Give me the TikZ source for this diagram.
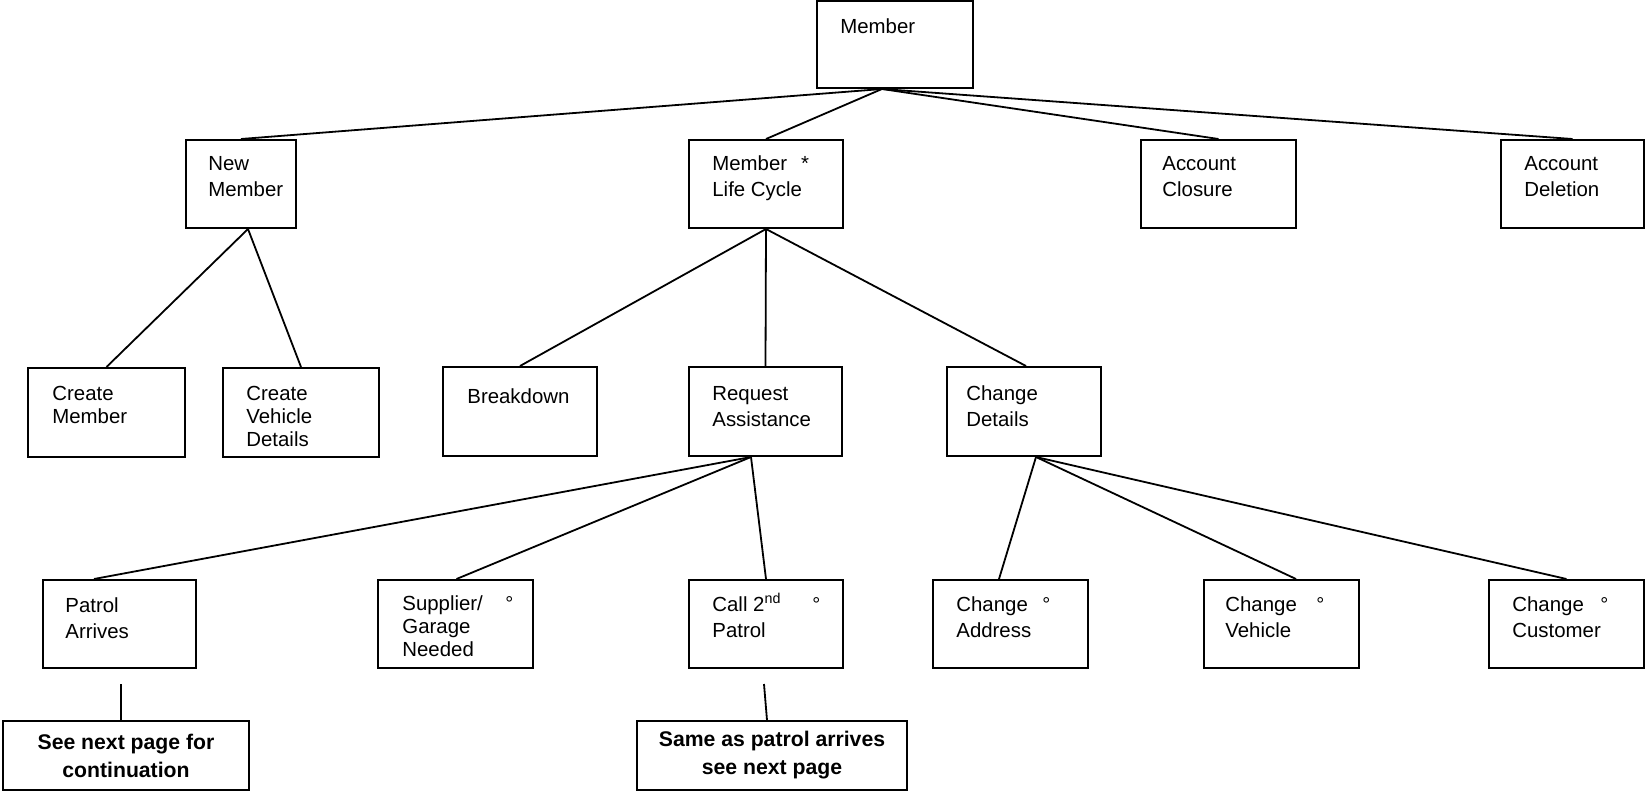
\documentclass[tikz,border=0pt]{standalone}
\usepackage{fontspec}
\setmainfont{Liberation Sans}
\usetikzlibrary{fit,calc}
% top-aligned multi-line label: baseline of the first line is the node base
\newcommand\txt[1]{\parbox[t]{100pt}{\raggedright #1}}
\begin{document}
\begin{tikzpicture}[x=0.5pt,y=-0.5pt,
  box/.style={draw, line width=1pt, inner sep=0pt, rectangle},
  wire/.style={line width=0.9pt},
  lbl/.style={anchor=base west, inner sep=0pt, font=\fontsize{10.2pt}{13pt}\selectfont},
  lblthree/.style={lbl, font=\fontsize{10.2pt}{11.5pt}\selectfont},
  degmark/.style={anchor=base west, inner sep=0pt, font=\fontsize{10pt}{13pt}\selectfont},
  notetxt/.style={inner sep=0pt, align=center, font=\bfseries\fontsize{10.6pt}{14pt}\selectfont}]
\useasboundingbox (0,0) rectangle (1645,793);

% ---- boxes ----
\node[box, fit={(817,1)(973,88)}] (mem) {};
\node[box, fit={(186,140)(296,228)}] (nm) {};
\node[box, fit={(689,140)(843,228)}] (mlc) {};
\node[box, fit={(1141,140)(1296,228)}] (ac) {};
\node[box, fit={(1501,140)(1644,228)}] (ad) {};
\node[box, fit={(28,368)(185,457)}] (cm) {};
\node[box, fit={(223,368)(379,457)}] (cv) {};
\node[box, fit={(443,367)(597,456)}] (bd) {};
\node[box, fit={(689,367)(842,456)}] (ra) {};
\node[box, fit={(947,367)(1101,456)}] (cd) {};
\node[box, fit={(43,580)(196,668)}] (pa) {};
\node[box, fit={(378,580)(533,668)}] (sg) {};
\node[box, fit={(689,580)(843,668)}] (c2) {};
\node[box, fit={(933,580)(1088,668)}] (ca) {};
\node[box, fit={(1204,580)(1359,668)}] (cvh) {};
\node[box, fit={(1489,580)(1644,668)}] (cc) {};
\node[box, fit={(3,721)(249,790)}] (snp) {};
\node[box, fit={(637,721)(907,790)}] (sap) {};

% ---- box texts ----
\node[lbl] (mem-t) at (840,33) {\txt{Member}};
\node[lbl] (nm-t) at (208,170) {\txt{New\\Member}};
\node[lbl] (mlc-t) at (712,170) {\txt{Member\hspace{7pt}*\\Life Cycle}};
\node[lbl] (ac-t) at (1162,170) {\txt{Account\\Closure}};
\node[lbl] (ad-t) at (1524,170) {\txt{Account\\Deletion}};
\node[lblthree] (cm-t) at (52,400) {\txt{Create\\Member}};
\node[lblthree] (cv-t) at (246,400) {\txt{Create\\Vehicle\\Details}};
\node[lbl] (bd-t) at (467,403) {\txt{Breakdown}};
\node[lbl] (ra-t) at (712,400) {\txt{Request\\Assistance}};
\node[lbl] (cd-t) at (966,400) {\txt{Change\\Details}};
\node[lbl] (pa-t) at (65,612) {\txt{Patrol\\Arrives}};
\node[lblthree] (sg-t) at (402,610) {\txt{Supplier/\\Garage\\Needed}};
\node[lbl] (c2-t) at (712,611) {\txt{Call 2\textsuperscript{nd}\\Patrol}};
\node[lbl] (ca-t) at (956,611) {\txt{Change\\Address}};
\node[lbl] (cvh-t) at (1225,611) {\txt{Change\\Vehicle}};
\node[lbl] (cc-t) at (1512,611) {\txt{Change\\Customer}};

% option marks
\node[degmark] (sg-o) at (505,610) {°};
\node[degmark] (c2-o) at (812,611) {°};
\node[degmark] (ca-o) at (1042,611) {°};
\node[degmark] (cvh-o) at (1316,611) {°};
\node[degmark] (cc-o) at (1600,611) {°};

% continuation notes
\node[notetxt] (snp-t) at (snp.center) {See next page for\\continuation};
\node[notetxt] (sap-t) at (sap.center) {Same as patrol arrives\\see next page};

% ---- connectors ----
\coordinate (mem-b) at ($(mem.south west)+(66,0)$);
\draw[wire] (mem-b) -- (nm.north);
\draw[wire] (mem-b) -- (mlc.north);
\draw[wire] (mem-b) -- (ac.north);
\draw[wire] (mem-b) -- (ad.north);

\coordinate (nm-b) at ($(nm.south west)+(63,0)$);
\draw[wire] (nm-b) -- (cm.north);
\draw[wire] (nm-b) -- (cv.north);

\coordinate (mlc-b) at ($(mlc.south west)+(78,0)$);
\draw[wire] (mlc-b) -- (bd.north);
\draw[wire] (mlc-b) -- (ra.north);
\draw[wire] (mlc-b) -- ($(cd.north)+(2,0)$);

\coordinate (ra-b) at ($(ra.south west)+(63,0)$);
\draw[wire] (ra-b) -- ($(pa.north west)+(52,0)$);
\draw[wire] (ra-b) -- ($(sg.north)+(1,0)$);
\draw[wire] (ra-b) -- (c2.north);

\coordinate (cd-b) at ($(cd.south west)+(90,0)$);
\draw[wire] (cd-b) -- ($(ca.north west)+(67,0)$);
\draw[wire] (cd-b) -- ($(cvh.north west)+(93,0)$);
\draw[wire] (cd-b) -- (cc.north);

\coordinate (pa-stub) at (121,684);
\draw[wire] (pa-stub) -- ($(snp.north)+(-5,0)$);
\coordinate (c2-stub) at (764,684);
\draw[wire] (c2-stub) -- ($(sap.north)+(-5,0)$);
\end{tikzpicture}
\end{document}
